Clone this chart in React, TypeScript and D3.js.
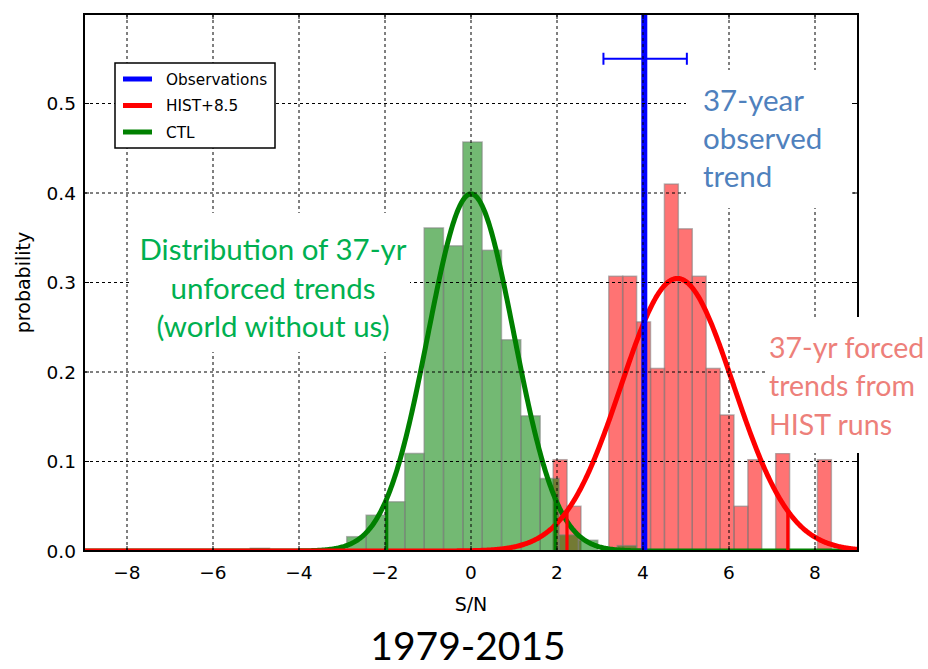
import React from "react";
import * as d3 from "d3";

const W = 928;
const H = 669;

// Control-run (unforced) trend histogram: bin left edges and probability density
const ctlBinWidth = 0.449;
const ctlBinLeft = [-5.135, -2.89, -2.44, -1.99, -1.54, -1.09, -0.64, -0.19, 0.26, 0.71, 1.16, 1.6, 2.05, 2.5, 3.4];
const ctlDensity = [0.003, 0.016, 0.04, 0.055, 0.109, 0.361, 0.341, 0.457, 0.336, 0.236, 0.151, 0.081, 0.018, 0.012, 0.006];

// HIST+8.5 (forced) trend histogram
const histBinWidth = 0.3235;
const histBinLeft = [1.91, 2.234, 3.204, 3.528, 3.851, 4.175, 4.498, 4.822, 5.145, 5.469, 5.792, 6.116, 6.439, 7.086, 8.057];
const histDensity = [0.102, 0.05, 0.307, 0.307, 0.256, 0.204, 0.41, 0.36, 0.307, 0.204, 0.152, 0.05, 0.102, 0.109, 0.102];

// Fitted normal distributions
const ctlFit = { mean: 0, sd: 1 };
const histFit = { mean: 4.8, sd: 1.31 };

// Observed 37-year trend and its uncertainty range
const observedValue = 4.03;
const observedRange = [3.08, 5.02];
const observedBarLevel = 0.55;

const xTicks = [-8, -6, -4, -2, 0, 2, 4, 6, 8];
const yTicks = [0, 0.1, 0.2, 0.3, 0.4, 0.5];

const legendLabels = ["Observations", "HIST+8.5", "CTL"];
const legendColors = ["#0000ff", "#ff0000", "#008000"];

const ctlNote = ["Distribution of 37-yr", "unforced trends", "(world without us)"];
const obsNote = ["37-year", "observed", "trend"];
const histNote = ["37-yr forced", "trends from", "HIST runs"];
const period = "1979-2015";

const plot = { left: 84, right: 858, top: 14, bottom: 551 };

const x = d3.scaleLinear().domain([-9, 9]).range([plot.left, plot.right]);
const y = d3.scaleLinear().domain([0, 0.6]).range([plot.bottom, plot.top]);

const pdf = (v: number, m: number, s: number) =>
  Math.exp(-0.5 * ((v - m) / s) ** 2) / (s * Math.sqrt(2 * Math.PI));

const grid = d3.range(-9, 9.0001, 0.02);
const line = d3
  .line<number>()
  .x((d) => x(d))
  .curve(d3.curveLinear);

const curvePath = (fit: { mean: number; sd: number }) =>
  line.y((d) => y(pdf(d, fit.mean, fit.sd)))(grid) as string;

const fmtX = (v: number) => (v < 0 ? "\u2212" + Math.abs(v) : String(v));
const fmtY = d3.format(".1f");

const axisFont = "'DejaVu Sans', sans-serif";
const noteFont = "Lato, 'Open Sans', sans-serif";

function Bars({ left, dens, width, color }: { left: number[]; dens: number[]; width: number; color: string }) {
  return (
    <g>
      {left.map((l, i) => (
        <rect
          key={i}
          x={x(l)}
          y={y(dens[i])}
          width={x(l + width) - x(l)}
          height={y(0) - y(dens[i])}
          fill={color}
          fillOpacity={0.55}
          stroke="#808080"
          strokeOpacity={0.55}
          strokeWidth={1.5}
        />
      ))}
    </g>
  );
}

function Percentiles({ fit, color }: { fit: { mean: number; sd: number }; color: string }) {
  const pts = [fit.mean - 1.96 * fit.sd, fit.mean + 1.96 * fit.sd];
  return (
    <g>
      {pts.map((p, i) => (
        <line key={i} x1={x(p)} x2={x(p)} y1={y(0)} y2={y(pdf(p, fit.mean, fit.sd))} stroke={color} strokeWidth={3.2} />
      ))}
    </g>
  );
}

export default function App() {
  const capH = 6;
  return (
    <svg
      width={W}
      height={H}
      viewBox={`0 0 ${W} ${H}`}
      style={{ position: "absolute", left: 0, top: 0, display: "block", background: "#fff" }}
    >
      <defs>
        <clipPath id="plot-area">
          <rect x={plot.left} y={plot.top} width={plot.right - plot.left} height={plot.bottom - plot.top} />
        </clipPath>
      </defs>
      <rect x={0} y={0} width={W} height={H} fill="#fff" />

      <g clipPath="url(#plot-area)">
        <Bars left={histBinLeft} dens={histDensity} width={histBinWidth} color="#ff0000" />
        <Bars left={ctlBinLeft} dens={ctlDensity} width={ctlBinWidth} color="#008000" />

        <path d={curvePath(ctlFit)} fill="none" stroke="#008000" strokeWidth={5} />
        <path d={curvePath(histFit)} fill="none" stroke="#ff0000" strokeWidth={5} />
        <Percentiles fit={ctlFit} color="#008000" />
        <Percentiles fit={histFit} color="#ff0000" />

        <line x1={x(observedValue)} x2={x(observedValue)} y1={plot.top} y2={plot.bottom} stroke="#0000ff" strokeWidth={6} />
        <g stroke="#0000ff" strokeWidth={2}>
          <line x1={x(observedRange[0])} x2={x(observedRange[1])} y1={y(observedBarLevel)} y2={y(observedBarLevel)} />
          <line x1={x(observedRange[0])} x2={x(observedRange[0])} y1={y(observedBarLevel) - capH} y2={y(observedBarLevel) + capH} />
          <line x1={x(observedRange[1])} x2={x(observedRange[1])} y1={y(observedBarLevel) - capH} y2={y(observedBarLevel) + capH} />
        </g>
      </g>

      {/* grid */}
      <g stroke="#000" strokeWidth={1} strokeDasharray="3,3">
        {xTicks.map((t) => (
          <line key={"gx" + t} x1={x(t)} x2={x(t)} y1={plot.top} y2={plot.bottom} />
        ))}
        {yTicks.filter((t) => t > 0).map((t) => (
          <line key={"gy" + t} x1={plot.left} x2={plot.right} y1={y(t)} y2={y(t)} />
        ))}
      </g>

      {/* ticks (inward) */}
      <g stroke="#000" strokeWidth={1}>
        {xTicks.map((t) => (
          <g key={"tx" + t}>
            <line x1={x(t)} x2={x(t)} y1={plot.bottom} y2={plot.bottom - 5} />
            <line x1={x(t)} x2={x(t)} y1={plot.top} y2={plot.top + 5} />
          </g>
        ))}
        {yTicks.map((t) => (
          <g key={"ty" + t}>
            <line x1={plot.left} x2={plot.left + 5} y1={y(t)} y2={y(t)} />
            <line x1={plot.right} x2={plot.right - 5} y1={y(t)} y2={y(t)} />
          </g>
        ))}
      </g>

      {/* frame */}
      <rect
        x={plot.left}
        y={plot.top}
        width={plot.right - plot.left}
        height={plot.bottom - plot.top}
        fill="none"
        stroke="#000"
        strokeWidth={2}
      />

      {/* tick labels */}
      <g fontFamily={axisFont} fontSize={18.5} fill="#000">
        {xTicks.map((t) => (
          <text key={"lx" + t} x={x(t)} y={plot.bottom + 28} textAnchor="middle">
            {fmtX(t)}
          </text>
        ))}
        {yTicks.map((t) => (
          <text key={"ly" + t} x={plot.left - 8} y={y(t) + 6.5} textAnchor="end">
            {fmtY(t)}
          </text>
        ))}
      </g>
      <text x={(plot.left + plot.right) / 2} y={611} textAnchor="middle" fontFamily={axisFont} fontSize={19}>
        S/N
      </text>
      <text
        transform={`translate(30,${(plot.top + plot.bottom) / 2}) rotate(-90)`}
        textAnchor="middle"
        fontFamily={axisFont}
        fontSize={19}
      >
        probability
      </text>

      {/* legend */}
      <g>
        <rect x={115} y={63} width={160} height={85} fill="#fff" stroke="#000" strokeWidth={1.5} />
        {legendLabels.map((lab, i) => (
          <g key={lab} transform={`translate(0,${79 + i * 26.5})`}>
            <line x1={123} x2={152} y1={0} y2={0} stroke={legendColors[i]} strokeWidth={5} />
            <text x={166} y={5.5} fontFamily={axisFont} fontSize={15.3} fill="#000">
              {lab}
            </text>
          </g>
        ))}
      </g>

      {/* text boxes */}
      <rect x={686} y={70} width={166} height={138} fill="#fff" />
      <rect x={132} y={213} width={278} height={139} fill="#fff" />
      <rect x={767} y={317} width={161} height={136} fill="#fff" />

      <g fontFamily={noteFont} fontSize={29.5} fill="#4f81bd">
        {obsNote.map((s, i) => (
          <text key={s} x={703} y={111 + i * 38}>
            {s}
          </text>
        ))}
      </g>
      <g fontFamily={noteFont} fontSize={29.5} fill="#00b050" textAnchor="middle">
        {ctlNote.map((s, i) => (
          <text key={s} x={273} y={260 + i * 38.5}>
            {s}
          </text>
        ))}
      </g>
      <g fontFamily={noteFont} fontSize={28.5} fill="#ed807a">
        {histNote.map((s, i) => (
          <text key={s} x={769} y={357.5 + i * 38.5}>
            {s}
          </text>
        ))}
      </g>

      <text x={468} y={660} textAnchor="middle" fontFamily={noteFont} fontSize={39} fill="#000">
        {period}
      </text>
    </svg>
  );
}
